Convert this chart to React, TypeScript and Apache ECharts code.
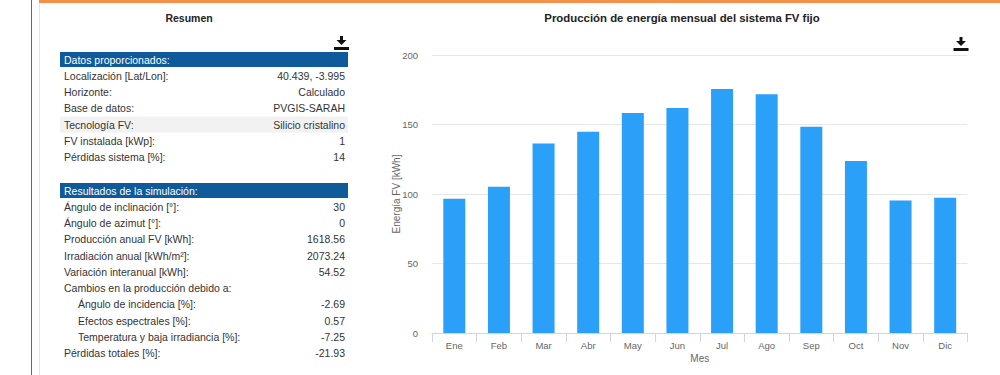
import React, { useEffect, useRef } from "react";
import * as echarts from "echarts";

const months = ["Ene", "Feb", "Mar", "Abr", "May", "Jun", "Jul", "Ago", "Sep", "Oct", "Nov", "Dic"];
const energy = [96.6, 105.2, 136.3, 144.8, 158.2, 161.8, 175.5, 171.8, 148.3, 123.8, 95.4, 97.3];
const yTicks = [0, 50, 100, 150, 200];

const chartTitle = "Producción de energía mensual del sistema FV fijo";
const summaryTitle = "Resumen";
const inputHeader = "Datos proporcionados:";
const inputLabels = [
  "Localización [Lat/Lon]:",
  "Horizonte:",
  "Base de datos:",
  "Tecnología FV:",
  "FV instalada [kWp]:",
  "Pérdidas sistema [%]:",
];
const inputValues = ["40.439, -3.995", "Calculado", "PVGIS-SARAH", "Silicio cristalino", "1", "14"];
const resultHeader = "Resultados de la simulación:";
const resultLabels = [
  "Ángulo de inclinación [°]:",
  "Ángulo de azimut [°]:",
  "Producción anual FV [kWh]:",
  "Irradiación anual [kWh/m²]:",
  "Variación interanual [kWh]:",
  "Cambios en la producción debido a:",
  "Ángulo de incidencia [%]:",
  "Efectos espectrales [%]:",
  "Temperatura y baja irradiancia [%]:",
  "Pérdidas totales [%]:",
];
const resultValues = ["30", "0", "1618.56", "2073.24", "54.52", "", "-2.69", "0.57", "-7.25", "-21.93"];
const resultIndent = [false, false, false, false, false, false, true, true, true, false];

const FONT = "'Liberation Sans', Arial, Helvetica, sans-serif";
const TABLE_FS = 10.5;
const HEADER_BG = "#0f5a9b";
const TEXT = "#333333";

function downloadIcon(cx: number, top: number) {
  return {
    type: "group",
    children: [
      { type: "rect", shape: { x: cx - 1.5, y: top, width: 3, height: 5 }, style: { fill: "#111" } },
      {
        type: "polygon",
        shape: { points: [[cx - 5, top + 4], [cx + 5, top + 4], [cx, top + 9]] },
        style: { fill: "#111" },
      },
      { type: "rect", shape: { x: cx - 7.5, y: top + 11, width: 15, height: 3 }, style: { fill: "#111" } },
    ],
  };
}

function tableBlock(
  headerText: string,
  labels: string[],
  values: string[],
  indent: boolean[],
  headerTop: number,
  grayRow: number
) {
  const els: any[] = [];
  const left = 60;
  const width = 288;
  const step = 16.25;
  els.push({ type: "rect", shape: { x: left, y: headerTop, width, height: 15 }, style: { fill: HEADER_BG } });
  els.push({
    type: "text",
    x: 64,
    y: headerTop + 7.5,
    style: { text: headerText, fill: "#fff", fontSize: TABLE_FS, fontFamily: FONT, align: "left", verticalAlign: "middle" },
  });
  labels.forEach((lab, i) => {
    const cy = headerTop + 7.5 + step * (i + 1);
    if (i === grayRow) {
      els.push({
        type: "rect",
        shape: { x: left, y: cy - 8, width, height: 16 },
        style: { fill: "#f2f2f2" },
      });
    }
    els.push({
      type: "text",
      x: indent[i] ? 78 : 64,
      y: cy,
      style: { text: lab, fill: TEXT, fontSize: TABLE_FS, fontFamily: FONT, align: "left", verticalAlign: "middle" },
    });
    if (values[i]) {
      els.push({
        type: "text",
        x: 345,
        y: cy,
        style: { text: values[i], fill: TEXT, fontSize: TABLE_FS, fontFamily: FONT, align: "right", verticalAlign: "middle" },
      });
    }
  });
  return els;
}

export default function App() {
  const ref = useRef<HTMLDivElement>(null);

  useEffect(() => {
    if (!ref.current) return;
    const chart = echarts.init(ref.current, null, { renderer: "svg" });

    const graphics: any[] = [
      { type: "line", shape: { x1: 31.5, y1: 0, x2: 31.5, y2: 375 }, style: { stroke: "#4270b4", lineWidth: 1 } },
      { type: "line", shape: { x1: 39.5, y1: 3, x2: 39.5, y2: 375 }, style: { stroke: "#e4e4e4", lineWidth: 1 } },
      { type: "rect", shape: { x: 39, y: 0, width: 961, height: 3 }, style: { fill: "#f5904c" } },
      {
        type: "text",
        x: 189,
        y: 18,
        style: {
          text: summaryTitle,
          fill: "#222",
          fontSize: 10.5,
          fontWeight: "bold",
          fontFamily: FONT,
          align: "center",
          verticalAlign: "middle",
        },
      },
      {
        type: "text",
        x: 682,
        y: 18,
        style: {
          text: chartTitle,
          fill: "#222",
          fontSize: 11.4,
          fontWeight: "bold",
          fontFamily: FONT,
          align: "center",
          verticalAlign: "middle",
        },
      },
      downloadIcon(341.5, 36),
      downloadIcon(961, 37),
      ...tableBlock(inputHeader, inputLabels, inputValues, inputLabels.map(() => false), 52, 3),
      ...tableBlock(resultHeader, resultLabels, resultValues, resultIndent, 183, -1),
    ];

    chart.setOption({
      animation: false,
      backgroundColor: "#ffffff",
      textStyle: { fontFamily: FONT },
      grid: { left: 432, right: 32.5, top: 55, bottom: 42, containLabel: false },
      xAxis: {
        type: "category",
        data: months,
        boundaryGap: true,
        axisLine: { show: true, lineStyle: { color: "#ccd6eb", width: 1 } },
        axisTick: { show: true, length: 9, lineStyle: { color: "#ccd6eb" } },
        axisLabel: { color: "#666", fontSize: 9.5, margin: 7, fontFamily: FONT },
        name: "Mes",
        nameLocation: "middle",
        nameGap: 20,
        nameMoveOverlap: false,
        nameTextStyle: { color: "#666", fontSize: 10, fontFamily: FONT },
      },
      yAxis: {
        type: "value",
        min: yTicks[0],
        max: yTicks[yTicks.length - 1],
        interval: yTicks[1] - yTicks[0],
        axisLine: { show: false },
        axisTick: { show: false },
        axisLabel: { color: "#666", fontSize: 9.5, margin: 14, fontFamily: FONT },
        splitLine: { show: true, lineStyle: { color: "#e6e6e6", width: 1 } },
        name: "Energía FV [kWh]",
        nameLocation: "middle",
        nameGap: 31,
        nameRotate: 90,
        nameMoveOverlap: false,
        nameTextStyle: { color: "#666", fontSize: 10, fontFamily: FONT },
      },
      series: [
        {
          type: "bar",
          data: energy,
          barWidth: 22,
          itemStyle: { color: "#2ba0f8" },
        },
      ],
      graphic: graphics,
    });

    return () => chart.dispose();
  }, []);

  return (
    <div
      ref={ref}
      style={{ position: "absolute", left: 0, top: 0, width: 1000, height: 375, background: "#fff" }}
    />
  );
}
